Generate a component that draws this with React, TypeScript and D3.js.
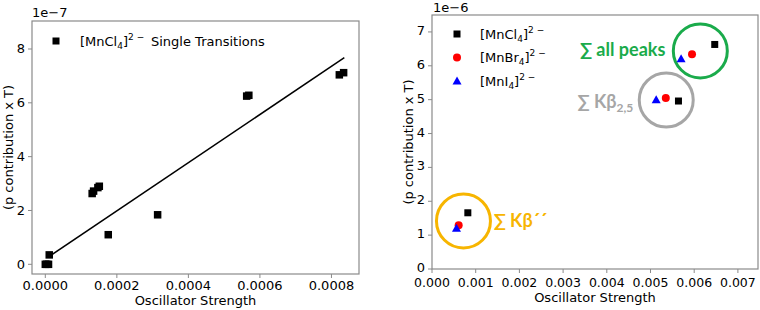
import * as d3 from 'd3';
import React from 'react';

// left panel: single transitions of [MnCl4]2-
const singleX = [0, 0.000004, 0.000009, 0.000011, 0.000131, 0.000135, 0.000147, 0.000151, 0.000176, 0.000314, 0.000563, 0.000569, 0.000822, 0.000834];
const singleY = [0, 0, 0, 0.35, 2.63, 2.72, 2.85, 2.9, 1.1, 1.84, 6.25, 6.28, 7.04, 7.12];
const fitX = [0.000013, 0.000836];
const fitY = [0.31, 7.68];
const leftXTicks = [0, 0.0002, 0.0004, 0.0006, 0.0008];
const leftXLabels = ['0.0000', '0.0002', '0.0004', '0.0006', '0.0008'];
const leftYTicks = [0, 2, 4, 6, 8];

// right panel: summed peaks
const clX = [0.00082, 0.00564, 0.00647];
const clY = [1.66, 4.96, 6.63];
const brX = [0.00061, 0.00535, 0.00595];
const brY = [1.29, 5.05, 6.34];
const iX = [0.00056, 0.00513, 0.0057];
const iY = [1.2, 5.0, 6.21];
const rightXTicks = [0, 0.001, 0.002, 0.003, 0.004, 0.005, 0.006, 0.007];
const rightXLabels = ['0.000', '0.001', '0.002', '0.003', '0.004', '0.005', '0.006', '0.007'];
const rightYTicks = [0, 1, 2, 3, 4, 5, 6, 7];
// annotation circles (centre in data units)
const groupNames = ['all peaks', 'Kb25', 'Kb2'];
const groupX = [0.00614, 0.00536, 0.00072];
const groupY = [6.44, 4.99, 1.42];
const groupColors = ['#1aab4b', '#a6a6a6', '#f7b500'];

const font = 'DejaVu Sans, sans-serif';
const frame = '#8a8a8a';

function Formula({ x, y, metal }: { x: number; y: number; metal: string }) {
  return (
    <text x={x} y={y} fontSize={13} fontFamily={font} fill="#000">
      <tspan>[Mn{metal}</tspan>
      <tspan fontSize={9} dy={3}>4</tspan>
      <tspan dy={-3}>]</tspan>
      <tspan fontSize={9} dy={-6}>2 −</tspan>
      <tspan dy={6}></tspan>
    </text>
  );
}

function Square({ cx, cy, s = 7.5 }: { cx: number; cy: number; s?: number }) {
  return <rect x={cx - s / 2} y={cy - s / 2} width={s} height={s} fill="#000" />;
}

function Triangle({ cx, cy }: { cx: number; cy: number }) {
  const p = d3.path();
  p.moveTo(cx, cy - 4.5);
  p.lineTo(cx + 4.5, cy + 3.5);
  p.lineTo(cx - 4.5, cy + 3.5);
  p.closePath();
  return <path d={p.toString()} fill="#0000ff" />;
}

function LeftPanel() {
  const x0 = 32, x1 = 359, y0 = 21, y1 = 274;
  const x = d3.scaleLinear().domain([-0.0000372, 0.000877]).range([x0, x1]);
  const y = d3.scaleLinear().domain([-0.36, 9.04]).range([y1, y0]);
  const line = d3.line<number>().x((d) => x(d)).y((_, i) => y(fitY[i]));
  return (
    <g>
      <rect x={x0} y={y0} width={x1 - x0} height={y1 - y0} fill="none" stroke={frame} strokeWidth={1.2} />
      {leftXTicks.map((t, i) => (
        <g key={t}>
          <line x1={x(t)} x2={x(t)} y1={y1} y2={y1 + 4} stroke={frame} />
          <text x={x(t)} y={290} textAnchor="middle" fontSize={13} fontFamily={font}>{leftXLabels[i]}</text>
        </g>
      ))}
      {leftYTicks.map((t) => (
        <g key={t}>
          <line x1={x0 - 4} x2={x0} y1={y(t)} y2={y(t)} stroke={frame} />
          <text x={25} y={y(t) + 4.5} textAnchor="end" fontSize={13} fontFamily={font}>{t}</text>
        </g>
      ))}
      <text x={x0} y={17} fontSize={13} fontFamily={font}>1e−7</text>
      <text x={(x0 + x1) / 2} y={305} textAnchor="middle" fontSize={13} fontFamily={font}>Oscillator Strength</text>
      <text transform={`translate(13,${(y0 + y1) / 2}) rotate(-90)`} textAnchor="middle" fontSize={13} fontFamily={font}>(p contribution x T)</text>
      <path d={line(fitX) ?? ''} fill="none" stroke="#000" strokeWidth={1.5} />
      {singleX.map((d, i) => <Square key={i} cx={x(d)} cy={y(singleY[i])} />)}
      <Square cx={56} cy={41} s={7} />
      <Formula x={80} y={46} metal="Cl" />
      <text x={151} y={46} fontSize={13} fontFamily={font}>Single Transitions</text>
    </g>
  );
}

function RightPanel() {
  const x0 = 432, x1 = 758, y0 = 15, y1 = 269;
  const x = d3.scaleLinear().domain([0, 0.00746]).range([x0, x1]);
  const y = d3.scaleLinear().domain([0, 7.5]).range([y1, y0]);
  const r = 27;
  return (
    <g>
      <rect x={x0} y={y0} width={x1 - x0} height={y1 - y0} fill="none" stroke={frame} strokeWidth={1.2} />
      {rightXTicks.map((t, i) => (
        <g key={t}>
          <line x1={x(t)} x2={x(t)} y1={y1} y2={y1 + 4} stroke={frame} />
          <text x={x(t)} y={287} textAnchor="middle" fontSize={12.5} fontFamily={font}>{rightXLabels[i]}</text>
        </g>
      ))}
      {rightYTicks.map((t) => (
        <g key={t}>
          <line x1={x0 - 4} x2={x0} y1={y(t)} y2={y(t)} stroke={frame} />
          <text x={425} y={y(t) + 3} textAnchor="end" fontSize={13} fontFamily={font}>{t}</text>
        </g>
      ))}
      <text x={x0 + 1} y={12} fontSize={13} fontFamily={font}>1e−6</text>
      <text x={(x0 + x1) / 2} y={302} textAnchor="middle" fontSize={13} fontFamily={font}>Oscillator Strength</text>
      <text transform={`translate(413,${(y0 + y1) / 2}) rotate(-90)`} textAnchor="middle" fontSize={13} fontFamily={font}>(p contribution x T)</text>
      {groupNames.map((g, i) => (
        <circle key={g} cx={x(groupX[i])} cy={y(groupY[i])} r={r} fill="none" stroke={groupColors[i]} strokeWidth={3} />
      ))}
      <text x={x(groupX[0]) - r - 8} y={y(groupY[0]) + 5} textAnchor="end" fontSize={18} fontWeight="bold" fontFamily="Lato, sans-serif" fill={groupColors[0]}>∑ all peaks</text>
      <text x={x(groupX[1]) - r - 6} y={y(groupY[1]) + 8} textAnchor="end" fontSize={18} fontWeight="bold" fontFamily="Lato, sans-serif" fill={groupColors[1]}>
        ∑ Kβ<tspan fontSize={12} dy={4}>2,5</tspan>
      </text>
      <text x={x(groupX[2]) + r + 3} y={y(groupY[2]) + 6} fontSize={18} fontWeight="bold" fontFamily="Lato, sans-serif" fill={groupColors[2]}>∑ Kβ´´</text>
      {clX.map((d, i) => <Square key={'c' + i} cx={x(d)} cy={y(clY[i])} s={7} />)}
      {brX.map((d, i) => <circle key={'b' + i} cx={x(d)} cy={y(brY[i])} r={4} fill="#ff0000" />)}
      {iX.map((d, i) => <Triangle key={'i' + i} cx={x(d)} cy={y(iY[i])} />)}
      <Square cx={457} cy={34} s={7} />
      <Formula x={480} y={39} metal="Cl" />
      <circle cx={457} cy={57.5} r={4} fill="#ff0000" />
      <Formula x={480} y={62} metal="Br" />
      <Triangle cx={457} cy={81} />
      <Formula x={480} y={86} metal="I" />
    </g>
  );
}

export default function App() {
  return (
    <svg width={760} height={310} style={{ position: 'absolute', left: 0, top: 0, background: '#fff' }}>
      <rect width={760} height={310} fill="#fff" />
      <LeftPanel />
      <RightPanel />
    </svg>
  );
}
